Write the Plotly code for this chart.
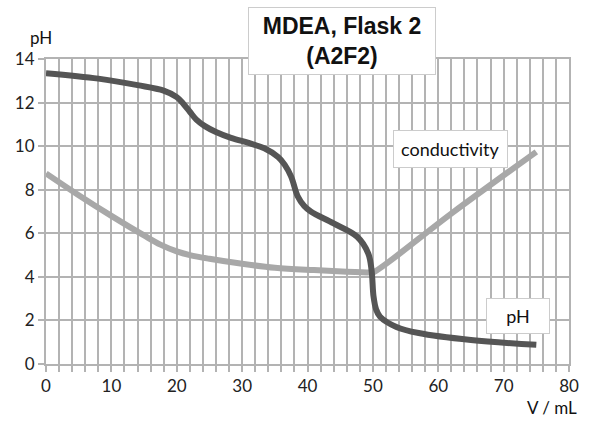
import plotly.graph_objects as go

# Data
ph_v = [0, 8, 14, 18, 20, 21, 22, 23, 24.3, 26, 28.3, 31, 33.4, 35.5, 36.5, 37.5, 38.5, 39.5, 40.5, 44, 47.6, 49.3, 49.8, 50.1, 50.5, 51.1, 53.6, 57, 65, 75]
ph_val = [13.35, 13.1, 12.8, 12.55, 12.25, 11.95, 11.58, 11.22, 10.92, 10.65, 10.38, 10.15, 9.9, 9.5, 9.15, 8.6, 7.7, 7.25, 7.0, 6.45, 5.84, 5.07, 4.3, 3.1, 2.5, 2.17, 1.7, 1.42, 1.1, 0.88]

cond_v = [0, 5, 10, 15, 17.5, 20, 22, 25, 30, 35, 41, 46, 49.6, 50, 62.2, 75]
cond_val = [8.75, 7.75, 6.8, 5.9, 5.48, 5.17, 5.0, 4.83, 4.6, 4.42, 4.31, 4.24, 4.2, 4.2, 6.95, 9.74]

title_lines = ["MDEA, Flask 2", "(A2F2)"]
x_label = "V / mL"
y_label = "pH"

GRID = "#b3b3b3"
FONT = "Lato"

fig = go.Figure()
fig.add_trace(go.Scatter(x=cond_v, y=cond_val, mode="lines",
                         line=dict(color="#a8a8a8", width=6, shape="spline", smoothing=1.0),
                         showlegend=False))
fig.add_trace(go.Scatter(x=ph_v, y=ph_val, mode="lines",
                         line=dict(color="#555555", width=6, shape="spline", smoothing=1.0),
                         showlegend=False))

def px(xp):
    return (xp - 46) / 529

def py(yp):
    return (421 - 57 - yp) / 305

fig.update_layout(
    width=591, height=421,
    margin=dict(l=46, r=16, t=59, b=57),
    paper_bgcolor="white", plot_bgcolor="white",
    font=dict(family=FONT, size=17, color="#222222"),
    xaxis=dict(range=[0, 80], dtick=10, tick0=0, showgrid=True, gridcolor=GRID, gridwidth=2,
               showline=True, linecolor=GRID, linewidth=2, mirror=True,
               ticks="outside", ticklen=6, tickcolor=GRID, tickwidth=2,
               minor=dict(dtick=2, showgrid=True, gridcolor=GRID, gridwidth=2,
                          ticks="outside", ticklen=6, tickcolor=GRID, tickwidth=2),
               zeroline=False, tickfont=dict(size=17, family=FONT)),
    yaxis=dict(range=[0, 14], dtick=2, tick0=0, showgrid=True, gridcolor=GRID, gridwidth=2,
               showline=True, linecolor=GRID, linewidth=2, mirror=True,
               ticks="outside", ticklen=6, tickcolor=GRID, tickwidth=2,
               zeroline=False, tickfont=dict(size=17, family=FONT)),
    annotations=[
        dict(text="<br>".join("<b>" + s + "</b>" for s in title_lines),
             xref="paper", yref="paper", x=px(345), y=py(41),
             showarrow=False, font=dict(family="Liberation Sans", size=23, color="#111111"),
             bgcolor="white", bordercolor="#cccccc", borderwidth=1, borderpad=5,
             xanchor="center", yanchor="middle", width=176),
        dict(text="conductivity", xref="paper", yref="paper",
             x=px(455), y=py(149), showarrow=False,
             font=dict(family=FONT, size=18, color="#111111"),
             bgcolor="white", bordercolor="#cccccc", borderwidth=1, borderpad=7,
             xanchor="center", yanchor="middle"),
        dict(text="pH", xref="paper", yref="paper",
             x=px(523), y=py(316), showarrow=False,
             font=dict(family=FONT, size=18, color="#111111"),
             bgcolor="white", bordercolor="#cccccc", borderwidth=1, borderpad=6,
             xanchor="center", yanchor="middle", width=50),
        dict(text=y_label, xref="paper", yref="paper",
             x=px(41), y=py(38), showarrow=False,
             font=dict(family=FONT, size=17, color="#111111"),
             xanchor="center", yanchor="middle"),
        dict(text=x_label, xref="paper", yref="paper",
             x=px(585), y=py(407), showarrow=False,
             font=dict(family=FONT, size=17, color="#111111"),
             xanchor="right", yanchor="middle"),
    ],
)

fig.write_html("out.html")
